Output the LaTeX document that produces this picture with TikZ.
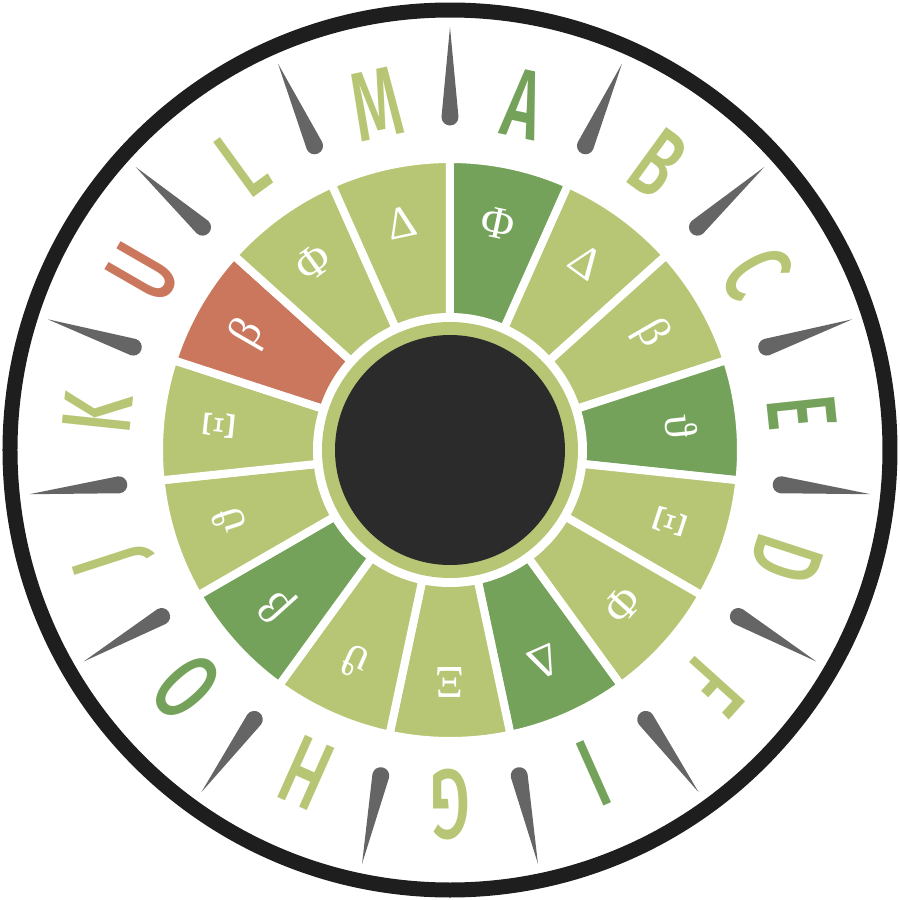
\documentclass[tikz,border=0pt]{standalone}
\usepackage{fontspec}
\newfontfamily\dialfont[FakeStretch=0.64]{Fira Sans Medium}
\newfontfamily\greekfont{Liberation Serif}
\usetikzlibrary{calc}

\definecolor{lightgreen}{HTML}{B7C674}
\definecolor{darkgreen}{HTML}{75A25A}
\definecolor{rust}{HTML}{CB775D}
\definecolor{hub}{HTML}{2B2B2B}
\definecolor{rim}{HTML}{1E1E1E}
\definecolor{tickgray}{HTML}{656565}

\tikzset{
  sector/.style={draw=white, line width=0.8mm},
  tickmark/.style={fill=tickgray},
  glyph/.style={text=white, inner sep=0pt, font=\greekfont\fontsize{13}{15}\selectfont},
  letter/.style={inner sep=0pt, font=\dialfont\fontsize{28}{30}\selectfont},
}

\begin{document}
\begin{tikzpicture}
\useasboundingbox (-4.5,-4.5) rectangle (4.5,4.5);

% outer rim
\draw[rim, line width=1.5mm] (0,0) circle (4.40);

% ticks between the letters
\foreach \t in {0,...,14}
  \fill[tickmark, rotate=90-24*\t] (4.23,0) -- (3.33,0.085)
    arc[start angle=90, end angle=270, radius=0.085] -- cycle;

% sectors, symbols and letters
\foreach \ltr/\sym/\col [count=\i from 0] in {A/Φ/darkgreen, B/Δ/lightgreen, C/β/lightgreen,
    E/ϑ/darkgreen, D/Ξ/lightgreen, F/Φ/lightgreen, I/Δ/darkgreen, G/Ξ/lightgreen,
    H/ϑ/lightgreen, O/β/darkgreen, J/ϑ/lightgreen, K/Ξ/lightgreen, U/β/rust,
    L/Φ/lightgreen, M/Δ/lightgreen}{
  \pgfmathsetmacro{\a}{78-24*\i}
  \filldraw[sector, fill=\col] (\a-12:1.33) arc[start angle=\a-12, end angle=\a+12, radius=1.33]
    -- (\a+12:2.91) arc[start angle=\a+12, end angle=\a-12, radius=2.91] -- cycle;
  \node[glyph, rotate=\a-90] (sym-\i) at (\a:2.32) {\sym};
  \node[letter, text=\col, rotate=\a-90] (ltr-\i) at (\a:3.54) {\ltr};
}

% hub
\fill[lightgreen] (0,0) circle (1.28);
\fill[hub] (0,0) circle (1.15);

\end{tikzpicture}
\end{document}
